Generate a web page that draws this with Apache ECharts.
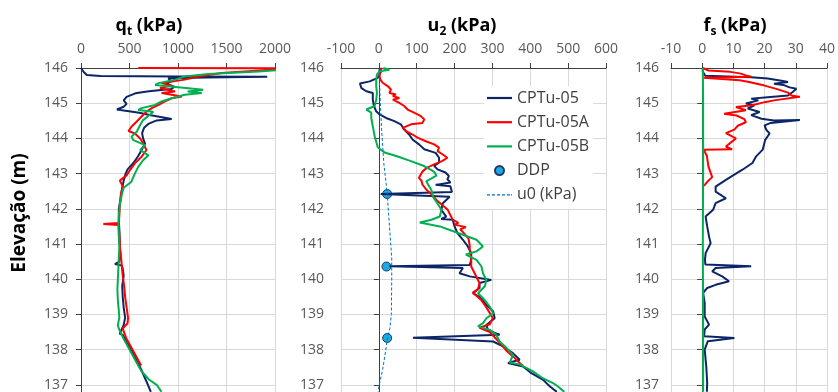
<!DOCTYPE html>
<html><head><meta charset="utf-8">
<script src="https://cdn.jsdelivr.net/npm/echarts@6/dist/echarts.min.js"></script>
<style>html,body{margin:0;padding:0;background:#fff}#c{width:838px;height:392px}</style>
</head><body><div id="c"></div>
<script>
// ---- data: [value, elevation (m)] ----
const qt05 = [[0,146.0],[5,145.95],[30,145.88],[60,145.8],[200,145.77],[1000,145.76],[1920,145.75],[1300,145.73],[900,145.71],[930,145.62],[880,145.55],[960,145.47],[930,145.40],[700,145.34],[560,145.28],[470,145.18],[440,145.08],[470,144.98],[440,144.9],[370,144.82],[380,144.77],[600,144.73],[720,144.66],[935,144.55],[780,144.51],[700,144.42],[650,144.30],[630,144.15],[640,144.0],[660,143.85],[630,143.70],[590,143.5],[540,143.3],[480,143.12],[460,143.0],[440,142.8],[425,142.6],[410,142.3],[390,142.0],[390,141.7],[395,141.4],[400,141.0],[405,140.7],[395,140.5],[350,140.43],[420,140.39],[430,140.3],[440,140.1],[425,139.8],[430,139.5],[440,139.2],[455,138.9],[440,138.7],[400,138.45],[430,138.42],[470,138.2],[520,138.0],[570,137.7],[610,137.5],[650,137.25],[690,137.0],[720,136.8]];
const qt05A = [[590,146.0],[2300,145.99],[2300,145.95],[1800,145.92],[1450,145.86],[1210,145.76],[1070,145.67],[830,145.57],[935,145.50],[815,145.43],[970,145.33],[830,145.29],[1040,145.19],[935,145.14],[865,145.05],[800,144.95],[730,144.86],[675,144.76],[625,144.62],[575,144.48],[520,144.33],[490,144.21],[555,144.14],[610,144.0],[640,143.86],[675,143.67],[625,143.48],[555,143.29],[505,143.10],[470,142.95],[400,142.80],[430,142.65],[410,142.4],[400,142.1],[395,141.8],[390,141.6],[230,141.57],[390,141.54],[395,141.3],[400,141.0],[410,140.7],[420,140.4],[430,140.1],[445,139.8],[455,139.5],[470,139.2],[485,138.9],[480,138.75],[430,138.6],[470,138.3],[530,138.0],[590,137.7],[620,137.55]];
const qt05B = [[2300,146.0],[2300,145.96],[1830,145.9],[1310,145.83],[1070,145.76],[970,145.67],[800,145.57],[765,145.52],[900,145.48],[1260,145.38],[1100,145.33],[1245,145.29],[1070,145.24],[935,145.14],[830,145.05],[765,144.95],[625,144.86],[590,144.81],[745,144.76],[710,144.67],[640,144.52],[610,144.38],[575,144.19],[520,144.05],[540,143.95],[660,143.81],[610,143.67],[695,143.52],[640,143.38],[590,143.19],[555,143.0],[520,142.77],[440,142.6],[420,142.4],[400,142.1],[390,141.8],[385,141.5],[390,141.2],[395,140.9],[390,140.6],[385,140.3],[380,140.0],[375,139.7],[380,139.4],[390,139.1],[395,138.9],[380,138.7],[390,138.6],[440,138.3],[500,138.0],[560,137.7],[620,137.4],[700,137.15],[780,137.0],[830,136.8]];

const u205 = [[2,146.0],[6,145.91],[2,145.81],[-3,145.72],[-24,145.62],[-50,145.56],[-46,145.43],[-33,145.34],[-16,145.29],[-16,145.10],[-13,144.92],[-7,144.77],[2,144.68],[19,144.58],[41,144.49],[58,144.40],[67,144.25],[80,144.11],[89,143.97],[106,143.83],[120,143.69],[150,143.59],[159,143.45],[159,143.31],[146,143.22],[155,143.12],[176,143.03],[185,142.93],[181,142.84],[189,142.75],[150,142.68],[189,142.64],[193,142.48],[5,142.42],[187,142.34],[169,142.16],[165,141.97],[178,141.78],[165,141.71],[195,141.69],[200,141.5],[208,141.3],[222,141.12],[235,140.93],[244,140.74],[244,140.55],[240,140.40],[28,140.37],[222,140.32],[213,140.17],[240,140.08],[297,139.98],[266,139.89],[266,139.75],[249,139.6],[271,139.46],[284,139.27],[302,139.08],[306,138.89],[284,138.7],[288,138.56],[319,138.42],[90,138.34],[302,138.23],[328,138.09],[354,137.9],[372,137.71],[341,137.62],[381,137.52],[403,137.33],[434,137.14],[452,136.95],[470,136.8]];
const u205A = [[8,146.0],[2,145.91],[2,145.76],[4,145.67],[10,145.58],[24,145.48],[32,145.39],[28,145.29],[45,145.25],[37,145.2],[54,145.15],[37,145.1],[54,145.01],[67,144.92],[76,144.82],[93,144.73],[111,144.63],[120,144.54],[115,144.44],[85,144.40],[63,144.30],[72,144.21],[89,144.11],[102,144.02],[124,143.92],[146,143.83],[159,143.74],[155,143.64],[168,143.55],[181,143.45],[168,143.36],[146,143.26],[128,143.17],[116,143.07],[111,142.98],[106,142.88],[113,142.79],[115,142.69],[125,142.55],[140,142.4],[152,142.25],[168,142.1],[182,141.97],[195,141.69],[210,141.6],[200,141.55],[230,141.48],[215,141.42],[225,141.3],[237,141.15],[240,140.95],[240,140.84],[244,140.55],[244,140.36],[253,140.17],[266,139.89],[262,139.72],[248,139.62],[271,139.4],[284,139.2],[301,138.9],[293,138.72],[266,138.62],[293,138.5],[319,138.2],[337,137.97],[355,137.8],[372,137.62],[380,137.55]];
const u205B = [[12,146.0],[28,145.95],[2,145.91],[-5,145.81],[-7,145.67],[-7,145.48],[-5,145.29],[-7,145.1],[-11,144.92],[-33,144.82],[-20,144.73],[-20,144.58],[-16,144.34],[-11,144.06],[-3,143.75],[15,143.6],[46,143.5],[81,143.37],[116,143.23],[134,143.13],[147,143.04],[152,142.94],[125,142.78],[139,142.53],[143,142.34],[155,142.15],[165,141.97],[161,141.78],[139,141.69],[108,141.61],[161,141.5],[213,141.3],[258,141.12],[275,140.93],[258,140.79],[230,140.7],[258,140.55],[271,140.36],[275,140.17],[284,139.98],[280,139.8],[262,139.6],[280,139.4],[293,139.22],[302,139.03],[284,138.89],[275,138.75],[262,138.66],[293,138.56],[310,138.42],[319,138.23],[337,138.05],[354,137.85],[346,137.63],[372,137.58],[407,137.38],[434,137.18],[460,137.05],[473,136.95],[490,136.8]];
const u0 = [[0,146.0],[2,145.5],[4,145.0],[7,144.3],[13,143.3],[22,142.45],[28,141.5],[34,140.6],[34,140.0],[33,139.0],[29,138.6],[23,138.33],[17,137.9],[10,137.43],[0,136.95],[-2,136.8]];
const ddp = [[22,142.42],[20,140.36],[22,138.33]];

const fs05 = [[0.2,146.0],[0.2,145.89],[1.0,145.78],[15.7,145.74],[21,145.7],[25.4,145.64],[27.5,145.6],[23,145.55],[26,145.52],[28,145.45],[30.2,145.41],[29,145.32],[27.5,145.22],[21,145.17],[15.7,145.13],[18,145.08],[14,144.99],[16.7,144.94],[14.6,144.85],[18.4,144.75],[15.7,144.66],[19,144.56],[23,144.51],[31.3,144.52],[22,144.44],[20,144.37],[20.5,144.25],[21.6,144.14],[20.2,143.96],[19.4,143.68],[17.3,143.49],[16.1,143.3],[12.9,143.11],[10.3,142.97],[7.6,142.82],[4.3,142.63],[4.3,142.49],[7.6,142.3],[4.3,142.16],[3.5,141.97],[1.1,141.78],[1.6,141.5],[2.2,141.21],[2.7,141.02],[1.1,140.74],[0.9,140.56],[1.0,140.42],[15.7,140.37],[4.3,140.32],[3.2,140.22],[6.4,140.08],[8.6,139.94],[4.3,139.84],[1.6,139.75],[0.3,139.61],[0.8,139.32],[0.8,138.94],[2.2,138.71],[0.8,138.57],[0.6,138.38],[10.3,138.33],[1.8,138.24],[0.8,138.0],[1.3,137.53],[1.6,137.06],[1.5,136.8]];
const fs05A = [[0.2,146.0],[2,145.93],[9,145.89],[12.4,145.84],[14,145.79],[15.7,145.75],[0.5,145.72],[0.5,145.68],[12,145.65],[15,145.6],[20,145.5],[24,145.4],[27.5,145.3],[28.6,145.22],[31.3,145.18],[23,145.08],[20,145.03],[16,144.94],[10.8,144.89],[14,144.8],[7,144.7],[11,144.65],[13.5,144.55],[14,144.46],[11.4,144.36],[10.3,144.25],[7.6,144.15],[10.8,144.0],[7.6,143.77],[9.6,143.69],[0.5,143.68],[1.5,143.5],[2,143.2],[3.2,142.9],[2,142.8],[0.8,142.68],[0.3,142.65]];
const fs05B = [[0.2,146.0],[0.3,145.0],[0.3,143.0],[0.2,141.0],[0.3,139.0],[0.3,137.0],[0.3,136.8]];

const qtTicks = [0, 2000, 500];
const u2Ticks = [-100, 600, 100];
const fsTicks = [-10, 40, 10];
const elevTicks = [136, 146, 1];

const NAVY = '#0B2566', RED = '#FF0000', GREEN = '#00B050';
const FONT = '"Open Sans", "Noto Sans", sans-serif';
const LBL = '#595959';

const chart = echarts.init(document.getElementById('c'), null, {renderer: 'canvas'});

function xAx(idx, t) {
  return {type: 'value', gridIndex: idx, position: 'top', min: t[0], max: t[1], interval: t[2],
    axisLine: {show: true, lineStyle: {color: '#404040', width: 1}},
    axisTick: {show: true, length: 5, lineStyle: {color: '#404040'}},
    axisLabel: {color: LBL, fontSize: 14, fontFamily: FONT, margin: 12, formatter: function (v) { return String(v); }},
    splitLine: {show: true, lineStyle: {color: '#D9D9D9', width: 1}}};
}
function yAx(idx, margin) {
  return {type: 'value', gridIndex: idx, min: elevTicks[0], max: elevTicks[1], interval: elevTicks[2],
    axisLine: {show: true, lineStyle: {color: '#404040', width: 1}},
    axisTick: {show: true, length: 5, lineStyle: {color: '#404040'}},
    axisLabel: {color: LBL, fontSize: 14, fontFamily: FONT, margin: margin, formatter: function (v) { return String(v); }},
    splitLine: {show: true, lineStyle: {color: '#D9D9D9', width: 1}}};
}
function ln(name, data, color, gi, w) {
  return {name: name, type: 'line', xAxisIndex: gi, yAxisIndex: gi, data: data, symbol: 'none',
    showSymbol: false, lineStyle: {color: color, width: w || 2}, itemStyle: {color: color}, silent: true};
}
function title(x, y, main, sub) {
  return {type: 'text', x: x, y: y, silent: true,
    style: {text: '{b|' + main + '}{s|' + sub + '}{b| (kPa)}', align: 'center', verticalAlign: 'middle',
      rich: {b: {fontSize: 18, fontWeight: 'bold', fontFamily: FONT, fill: '#000', lineHeight: 24},
             s: {fontSize: 12, fontWeight: 'bold', fontFamily: FONT, fill: '#000', lineHeight: 14, padding: [10, 0, 0, 0], verticalAlign: 'bottom'}}}};
}
const LINE_ICON = 'path://M0,0h25v2.2h-25z';
const DASH_ICON = 'path://M0,0h3v1.2h-3zM5,0h3v1.2h-3zM10,0h3v1.2h-3zM15,0h3v1.2h-3zM20,0h3v1.2h-3zM24,0h1v1.2h-1z';

chart.setOption({
  animation: false,
  backgroundColor: '#fff',
  grid: [
    {left: 81, top: 68, width: 194, height: 352, outerBoundsMode: 'none'},
    {left: 341, top: 68, width: 265, height: 352, outerBoundsMode: 'none'},
    {left: 671, top: 68, width: 156, height: 352, outerBoundsMode: 'none'}
  ],
  xAxis: [xAx(0, qtTicks), xAx(1, u2Ticks), xAx(2, fsTicks)],
  yAxis: [yAx(0, 13), yAx(1, 17), yAx(2, 12)],
  legend: {
    left: 484, top: 86, orient: 'vertical', backgroundColor: '#fff',
    padding: [4, 4, 6, 3], itemGap: 8.2, itemWidth: 25, itemHeight: 9,
    textStyle: {fontSize: 16, color: '#404040', fontFamily: FONT, lineHeight: 16},
    data: [
      {name: 'CPTu-05', icon: LINE_ICON},
      {name: 'CPTu-05A', icon: LINE_ICON},
      {name: 'CPTu-05B', icon: LINE_ICON},
      {name: 'DDP', icon: 'circle'},
      {name: 'u0 (kPa)', icon: DASH_ICON}
    ]
  },
  graphic: [
    title(149, 26, 'q', 't'),
    title(462, 26, 'u', '2'),
    title(735, 26, 'f', 's'),
    {type: 'text', x: 20, y: 213, rotation: Math.PI / 2, silent: true,
     style: {text: 'Elevação (m)', align: 'center', verticalAlign: 'middle', fontSize: 19, fontWeight: 'bold', fontFamily: FONT, fill: '#000'}}
  ],
  series: [
    ln('CPTu-05', qt05, NAVY, 0), ln('CPTu-05A', qt05A, RED, 0), ln('CPTu-05B', qt05B, GREEN, 0),
    ln('CPTu-05', u205, NAVY, 1), ln('CPTu-05A', u205A, RED, 1), ln('CPTu-05B', u205B, GREEN, 1),
    {name: 'u0 (kPa)', type: 'line', xAxisIndex: 1, yAxisIndex: 1, data: u0, symbol: 'none', silent: true,
     lineStyle: {color: '#0070C0', width: 1, type: [3, 2]}, itemStyle: {color: '#0070C0'}},
    {name: 'DDP', type: 'scatter', xAxisIndex: 1, yAxisIndex: 1, data: ddp, symbol: 'circle', symbolSize: 9, silent: true,
     itemStyle: {color: '#1AAAE2', borderColor: '#1F3864', borderWidth: 1, opacity: 1}},
    ln('CPTu-05', fs05, NAVY, 2), ln('CPTu-05A', fs05A, RED, 2), ln('CPTu-05B', fs05B, GREEN, 2)
  ]
});
</script></body></html>
